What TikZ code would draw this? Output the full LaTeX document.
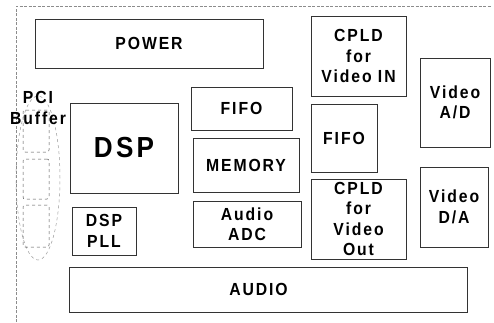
\documentclass[tikz,border=0pt]{standalone}
\usepackage{fontspec}
\setmainfont{Liberation Sans}[LetterSpace=11, FakeStretch=0.9]
\usetikzlibrary{shapes.geometric}

\begin{document}
\begin{tikzpicture}[
  x=1pt, y=-1pt,
  partbox/.style={rectangle, draw=black!80, line width=0.9pt, inner sep=0pt,
    align=center, font=\bfseries\fontsize{17.5}{20.5}\selectfont},
  cellbox/.style={rectangle, rounded corners=2pt, draw=black!70, dashed,
    line width=0.5pt, minimum width=26pt, inner sep=0pt},
  boardline/.style={draw=black!45, dash pattern=on 3pt off 1.5pt, line width=0.6pt}
]
  \useasboundingbox (0,0) rectangle (494,322);

  % board edge
  \coordinate (bl) at (16,322);
  \coordinate (tl) at (16,6);
  \coordinate (tr) at (492,6);
  \draw[boardline] (bl) -- (tl) -- (tr);

  % top row
  \node[partbox, minimum width=228pt, minimum height=49pt] (power) at (149,43.5) {POWER};
  \node[partbox, minimum width=95pt, minimum height=80pt] (cpldin) at (358.5,56) {CPLD\\for\\Video IN};
  \node[partbox, minimum width=70pt, minimum height=89pt] (vidad) at (455,102.5) {Video\\A/D};

  % middle
  \node[partbox, minimum width=108pt, minimum height=90pt,
        font=\bfseries\fontsize{29}{32}\selectfont] (dsp) at (124,148) {DSP};
  \node[partbox, minimum width=101pt, minimum height=43pt] (fifoa) at (241.5,108.5) {FIFO};
  \node[partbox, minimum width=106pt, minimum height=54pt] (memory) at (246,165) {MEMORY};
  \node[partbox, minimum width=66pt, minimum height=68pt] (fifob) at (344,138) {FIFO};

  % lower
  \node[partbox, minimum width=64pt, minimum height=48pt] (dsppll) at (104,231) {DSP\\PLL};
  \node[partbox, minimum width=108pt, minimum height=46pt] (adc) at (247,224) {Audio\\ADC};
  \node[partbox, minimum width=95pt, minimum height=80pt] (cpldout) at (358.5,219) {CPLD\\for\\Video\\Out};
  \node[partbox, minimum width=68pt, minimum height=80pt] (vidda) at (454,207) {Video\\D/A};
  \node[partbox, minimum width=398pt, minimum height=45pt, text width=398pt,
        align=center] (audio) at (268,289.5) {\hspace*{-19pt}AUDIO};

  % PCI buffer
  \node[ellipse, draw=black!40, dashed, line width=0.5pt, minimum width=44pt,
        minimum height=164pt, inner sep=0pt] (pciring) at (38,178) {};
  \node[cellbox, minimum height=42pt] (pci1) at (36,131) {};
  \node[cellbox, minimum height=40pt] (pci2) at (36,179) {};
  \node[cellbox, minimum height=42pt] (pci3) at (36,226) {};
  \node[align=center, inner sep=0pt, font=\bfseries\fontsize{17.5}{21}\selectfont]
    (pcilabel) at (38,108) {PCI\\Buffer};
\end{tikzpicture}
\end{document}
